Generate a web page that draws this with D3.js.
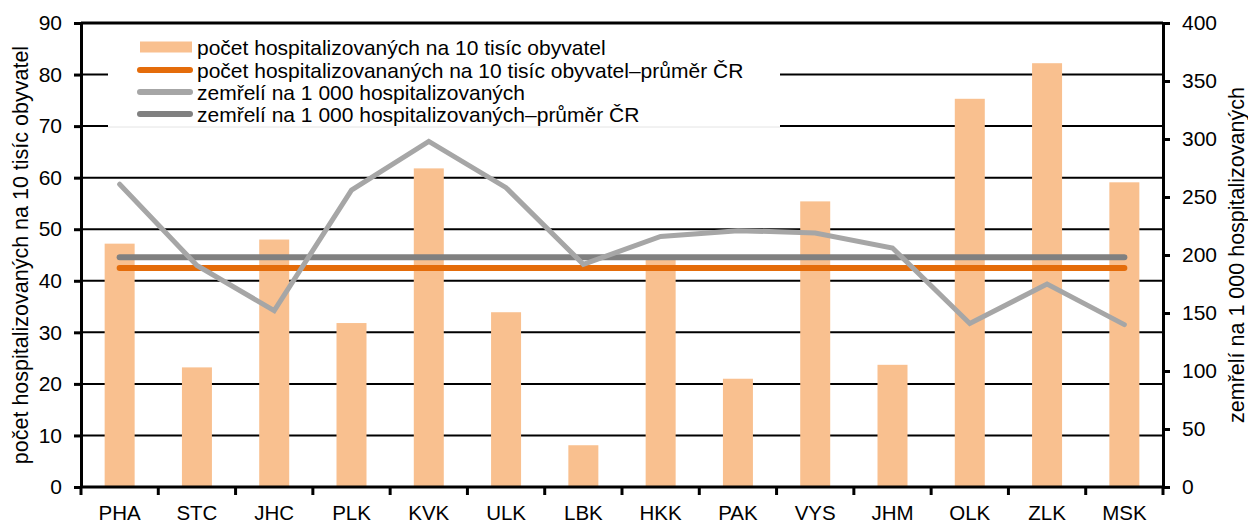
<!DOCTYPE html>
<html>
  <head>
    <meta charset="UTF-8" />
    <script src="https://d3js.org/d3.v7.min.js"></script>
    <style>
      body { margin: 0; background: #fff; }
      text { font-family: 'Liberation Sans', Arial, sans-serif; fill: #000; }
    </style>
  </head>
  <body>
    <svg id="chart" width="1248" height="523"></svg>
    <script>
      // data
      var regions = ['PHA', 'STC', 'JHC', 'PLK', 'KVK', 'ULK', 'LBK', 'HKK', 'PAK', 'VYS', 'JHM', 'OLK', 'ZLK', 'MSK'];
      var hospitalized = [47.2, 23.2, 48.0, 31.8, 61.8, 33.9, 8.1, 44.5, 21.0, 55.4, 23.7, 75.3, 82.2, 59.1];
      var hospitalizedAvg = 42.5;
      var deaths = [261, 191, 152, 256, 298, 258, 192, 216, 221, 219, 206, 141, 175, 140];
      var deathsAvg = 198;
      var leftTicks = [0, 10, 20, 30, 40, 50, 60, 70, 80, 90];
      var rightTicks = [0, 50, 100, 150, 200, 250, 300, 350, 400];
      var legendLabels = [
        'počet hospitalizovaných na 10 tisíc obyvatel',
        'počet hospitalizovananých na 10 tisíc obyvatel–průměr ČR',
        'zemřelí na 1 000 hospitalizovaných',
        'zemřelí na 1 000 hospitalizovaných–průměr ČR'
      ];

      // plot area (window.top is reserved, so use prefixed names)
      var pLeft = 81, pRight = 1163, pTop = 23, pBottom = 487;
      var svg = d3.select('#chart');

      var x = d3.scaleBand().domain(regions).range([pLeft, pRight]);
      var yL = d3.scaleLinear().domain([0, 90]).range([pBottom, pTop]);
      var yR = d3.scaleLinear().domain([0, 400]).range([pBottom, pTop]);

      // horizontal gridlines
      svg.append('g')
        .selectAll('line')
        .data(leftTicks)
        .enter()
        .append('line')
        .attr('x1', pLeft).attr('x2', pRight)
        .attr('y1', d => yL(d)).attr('y2', d => yL(d))
        .attr('stroke', '#000')
        .attr('stroke-width', d => d === 90 ? 3 : 2);

      // legend background hides gridlines behind it
      svg.append('rect')
        .attr('x', 108).attr('y', 30)
        .attr('width', 672).attr('height', 97)
        .attr('fill', '#fff');
      svg.append('line')
        .attr('x1', 108).attr('x2', 780)
        .attr('y1', 127).attr('y2', 127)
        .attr('stroke', '#e4e4e4').attr('stroke-width', 1);

      // bars
      var barW = 30;
      svg.append('g')
        .selectAll('rect')
        .data(hospitalized)
        .enter()
        .append('rect')
        .attr('x', (d, i) => x(regions[i]) + x.bandwidth() / 2 - barW / 2)
        .attr('y', d => yL(d))
        .attr('width', barW)
        .attr('height', d => pBottom - yL(d))
        .attr('fill', '#F9C08F');

      var cx = r => x(r) + x.bandwidth() / 2;

      // average lines
      var avgLine = d3.line().x(d => cx(d)).y(() => yL(hospitalizedAvg));
      svg.append('path')
        .attr('d', avgLine(regions))
        .attr('fill', 'none')
        .attr('stroke', '#E46C0A')
        .attr('stroke-width', 6)
        .attr('stroke-linecap', 'round');

      var deathAvgLine = d3.line().x(d => cx(d)).y(() => yR(deathsAvg));
      svg.append('path')
        .attr('d', deathAvgLine(regions))
        .attr('fill', 'none')
        .attr('stroke', '#808080')
        .attr('stroke-width', 6)
        .attr('stroke-linecap', 'round');

      var deathLine = d3.line().x((d, i) => cx(regions[i])).y(d => yR(d));
      svg.append('path')
        .attr('d', deathLine(deaths))
        .attr('fill', 'none')
        .attr('stroke', '#A6A6A6')
        .attr('stroke-width', 5)
        .attr('stroke-linecap', 'round')
        .attr('stroke-linejoin', 'miter');

      // axes
      var axL = svg.append('g')
        .attr('transform', 'translate(' + pLeft + ',0)')
        .call(d3.axisLeft(yL).tickValues(leftTicks).tickSize(7).tickPadding(12).tickSizeOuter(0));
      var axR = svg.append('g')
        .attr('transform', 'translate(' + pRight + ',0)')
        .call(d3.axisRight(yR).tickValues(rightTicks).tickSize(7).tickPadding(12).tickSizeOuter(0));
      var axB = svg.append('g')
        .attr('transform', 'translate(0,' + pBottom + ')')
        .call(d3.axisBottom(x).tickSize(0).tickPadding(18));

      [axL, axR, axB].forEach(function (g) {
        g.select('.domain').attr('stroke', '#000').attr('stroke-width', 3);
        g.selectAll('.tick line').attr('stroke', '#000').attr('stroke-width', 3);
        g.selectAll('.tick text').attr('font-size', 21).attr('font-family', "'Liberation Sans', Arial, sans-serif");
      });
      axB.selectAll('.tick text').attr('font-size', 20.5);
      axB.select('.domain').attr('d', 'M' + (pLeft - 1) + ',0H' + (pRight + 1));

      // category boundary ticks on the bottom axis
      var bounds = regions.map(r => x(r)).concat([pRight]);
      axB.selectAll('.bound')
        .data(bounds)
        .enter()
        .append('line')
        .attr('x1', d => d).attr('x2', d => d)
        .attr('y1', 0).attr('y2', 8)
        .attr('stroke', '#000').attr('stroke-width', 3);

      // axis titles
      svg.append('text')
        .attr('transform', 'translate(28,' + (pTop + pBottom) / 2 + ') rotate(-90)')
        .attr('text-anchor', 'middle')
        .attr('font-size', 21.5)
        .text('počet hospitalizovaných na 10 tisíc obyvatel');
      svg.append('text')
        .attr('transform', 'translate(1244,' + (pTop + pBottom) / 2 + ') rotate(-90)')
        .attr('text-anchor', 'middle')
        .attr('font-size', 21.5)
        .text('zemřelí na 1 000 hospitalizovaných');

      // legend
      var legendY = [47, 70, 92, 114];
      var lg = svg.append('g');
      lg.append('rect')
        .attr('x', 140).attr('y', legendY[0] - 5.5)
        .attr('width', 52).attr('height', 11)
        .attr('fill', '#F9C08F');
      var swatchColors = ['#E46C0A', '#A6A6A6', '#808080'];
      swatchColors.forEach(function (c, i) {
        lg.append('line')
          .attr('x1', 140).attr('x2', 190)
          .attr('y1', legendY[i + 1]).attr('y2', legendY[i + 1])
          .attr('stroke', c).attr('stroke-width', 6)
          .attr('stroke-linecap', 'round');
      });
      lg.selectAll('text')
        .data(legendLabels)
        .enter()
        .append('text')
        .attr('x', 197)
        .attr('y', (d, i) => legendY[i] + 1)
        .attr('dy', '0.35em')
        .attr('font-size', 21)
        .text(d => d);
    </script>
  </body>
</html>
